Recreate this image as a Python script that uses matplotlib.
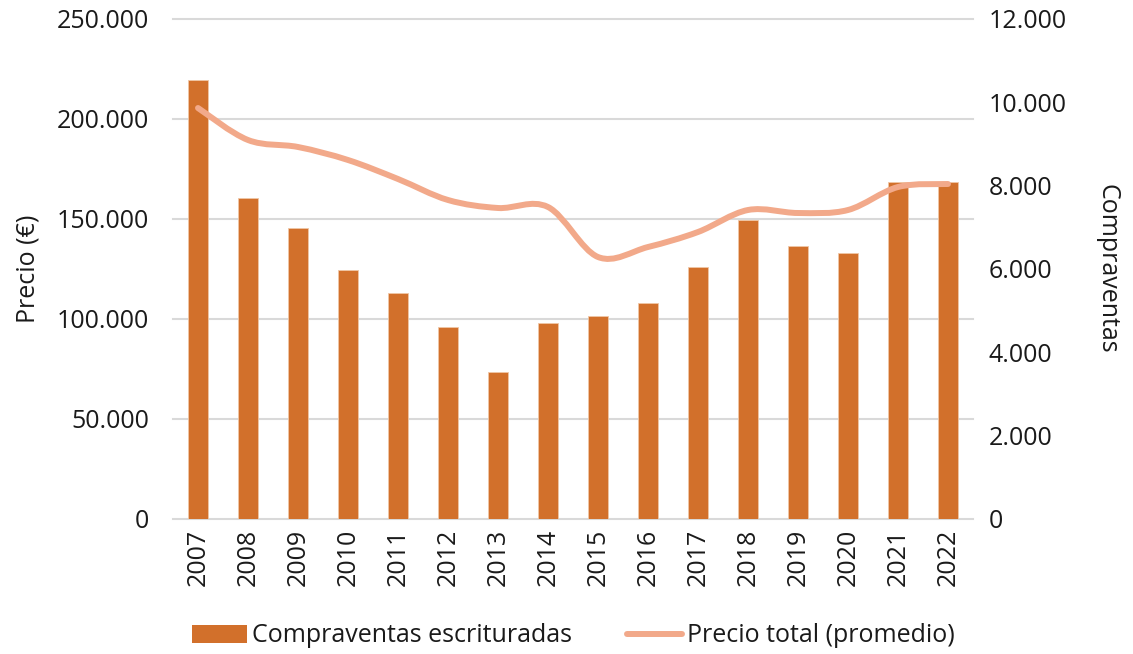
import numpy as np
import matplotlib
matplotlib.use('Agg')
import matplotlib.pyplot as plt
from matplotlib.path import Path
from matplotlib.patches import PathPatch, Patch
from matplotlib.lines import Line2D
from matplotlib import transforms
from matplotlib.ticker import FuncFormatter

# --- Data ---
years = ['2007', '2008', '2009', '2010', '2011', '2012', '2013', '2014',
         '2015', '2016', '2017', '2018', '2019', '2020', '2021', '2022']
compraventas = [10540, 7700, 6980, 5980, 5420, 4610, 3530, 4700,
                4870, 5180, 6050, 7180, 6550, 6380, 8090, 8100]
precio = [205500, 189500, 186000, 179500, 170000, 159500, 155500, 156000,
          131000, 136000, 143500, 154500, 153000, 154500, 166000, 167500]

BAR_COLOR = '#D2702B'
LINE_COLOR = '#F2A98A'
TEXT_COLOR = '#1a1a1a'
GRID_COLOR = '#d9d9d9'
FS = 18

plt.rcParams['font.family'] = ['Open Sans', 'DejaVu Sans']


def miles(v, pos):
    return f'{v:,.0f}'.replace(',', '.')


def smooth_path(xs, ys):
    # Catmull-Rom style smoothing like the spreadsheet "smoothed line"
    pts = np.column_stack([xs, ys]).astype(float)
    verts = [pts[0]]
    codes = [Path.MOVETO]
    n = len(pts)
    for i in range(n - 1):
        p0 = pts[i - 1] if i > 0 else pts[i]
        p1 = pts[i]
        p2 = pts[i + 1]
        p3 = pts[i + 2] if i + 2 < n else pts[i + 1]
        c1 = p1 + (p2 - p0) / 6.0
        c2 = p2 - (p3 - p1) / 6.0
        verts += [c1, c2, p2]
        codes += [Path.CURVE4] * 3
    return Path(verts, codes)


fig = plt.figure(figsize=(11.33, 6.54), dpi=100)
ax = fig.add_axes([173 / 1133, 135 / 654, 800 / 1133, 500 / 654])
ax2 = ax.twinx()
ax.set_zorder(ax2.get_zorder() + 1)
ax.patch.set_visible(False)

x = np.arange(len(years))

# Price axis (left)
ax.set_ylim(0, 250000)
ax.set_yticks(np.arange(0, 250001, 50000))
ax.yaxis.set_major_formatter(FuncFormatter(miles))
ax.set_xlim(-0.5, len(years) - 0.5)

# Gridlines follow the price axis, drawn behind the bars
trans = transforms.blended_transform_factory(ax2.transAxes, ax.transData)
for t in ax.get_yticks():
    ax2.plot([0, 1], [t, t], transform=trans, color=GRID_COLOR, lw=1.5,
             zorder=0, clip_on=False)

# Bars on the right axis
ax2.bar(x, compraventas, width=0.41, color=BAR_COLOR, edgecolor='#F0C7A6',
        linewidth=0.6, zorder=2)
ax2.set_ylim(0, 12000)
ax2.set_yticks(np.arange(0, 12001, 2000))
ax2.yaxis.set_major_formatter(FuncFormatter(miles))

# Smoothed price line
patch = PathPatch(smooth_path(x, precio), facecolor='none', edgecolor=LINE_COLOR,
                  lw=4.3, capstyle='round', joinstyle='round', zorder=3)
ax.add_patch(patch)

ax.set_xticks(x)
ax.set_xticklabels(years, rotation=90, fontsize=FS, color=TEXT_COLOR)

for a in (ax, ax2):
    for s in a.spines.values():
        s.set_visible(False)
    a.tick_params(length=0, labelsize=FS, labelcolor=TEXT_COLOR)

ax.tick_params(axis='y', pad=17)
ax.tick_params(axis='x', pad=7)
ax2.tick_params(axis='y', pad=11)

ax.set_ylabel('Precio (€)', fontsize=FS, color=TEXT_COLOR, labelpad=12)
ax2.set_ylabel('Compraventas', fontsize=FS, color=TEXT_COLOR, rotation=-90,
               labelpad=38)

handles = [Patch(facecolor=BAR_COLOR, edgecolor='none'),
           Line2D([0], [0], color=LINE_COLOR, lw=4.3, solid_capstyle='round')]
fig.legend(handles, ['Compraventas escrituradas', 'Precio total (promedio)'],
           loc='center', bbox_to_anchor=(573 / 1133, 1 - 636 / 654), ncol=2,
           frameon=False, fontsize=FS, handlelength=2.2, handleheight=0.75,
           handletextpad=0.2, columnspacing=2.2, labelcolor=TEXT_COLOR)

fig.savefig('out.png', dpi=100)
